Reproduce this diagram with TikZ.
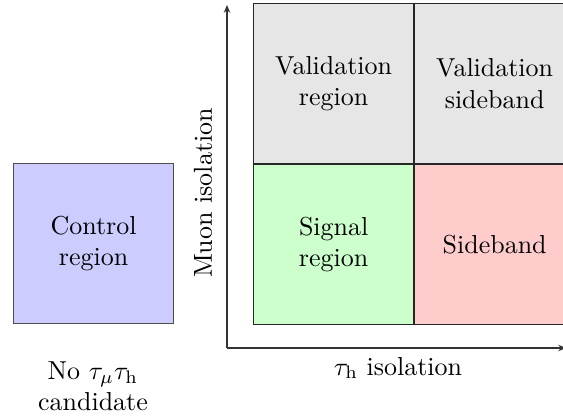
\documentclass[tikz,border=0pt]{standalone}
\usetikzlibrary{arrows.meta}
\definecolor{cellgray}{RGB}{230,230,230}
\definecolor{cellgreen}{RGB}{204,255,204}
\definecolor{cellred}{RGB}{255,204,204}
\definecolor{cellblue}{RGB}{204,204,255}
\tikzset{
  cell/.style={draw=black!85, line width=0.5pt, minimum width=61.6pt, minimum height=61.6pt,
    inner sep=0pt, align=center, anchor=north west},
  ctrl/.style={draw=black!70, line width=0.4pt, minimum width=61.6pt, minimum height=61.6pt,
    inner sep=0pt, align=center, anchor=north west, fill=cellblue},
  axis/.style={draw=black!80, line width=0.4pt, -{Stealth[length=3pt,width=2.5pt]}},
  lbl/.style={align=center, inner sep=0pt}
}
\begin{document}
\begin{tikzpicture}[x=0.385pt,y=-0.385pt]
\useasboundingbox (0,0) rectangle (563,416);
\clip (0,0) rectangle (563,416);
\coordinate (o) at (227,348);
\coordinate (ytip) at (227,5);
\coordinate (xtip) at (566,348);
\draw[axis] (o) -- (ytip);
\draw[axis] (o) -- (xtip);
\node[cell, fill=cellgray] (vr) at (253,3) {Validation\\region};
\node[cell, fill=cellgray] (vs) at (414,3) {Validation\\sideband};
\node[cell, fill=cellgreen] (sr) at (253,164) {Signal\\region};
\node[cell, fill=cellred] (sb) at (414,164) {Sideband};
\node[ctrl] (cr) at (13,163) {Control\\region};
\node[lbl, rotate=90] (ylab) at (203,193) {Muon isolation};
\node[lbl] (xlab) at (398,368) {$\tau_{\mathrm{h}}$ isolation};
\node[lbl] (nolab) at (93,386) {No $\tau_\mu\tau_{\mathrm{h}}$\\candidate};
\end{tikzpicture}
\end{document}
